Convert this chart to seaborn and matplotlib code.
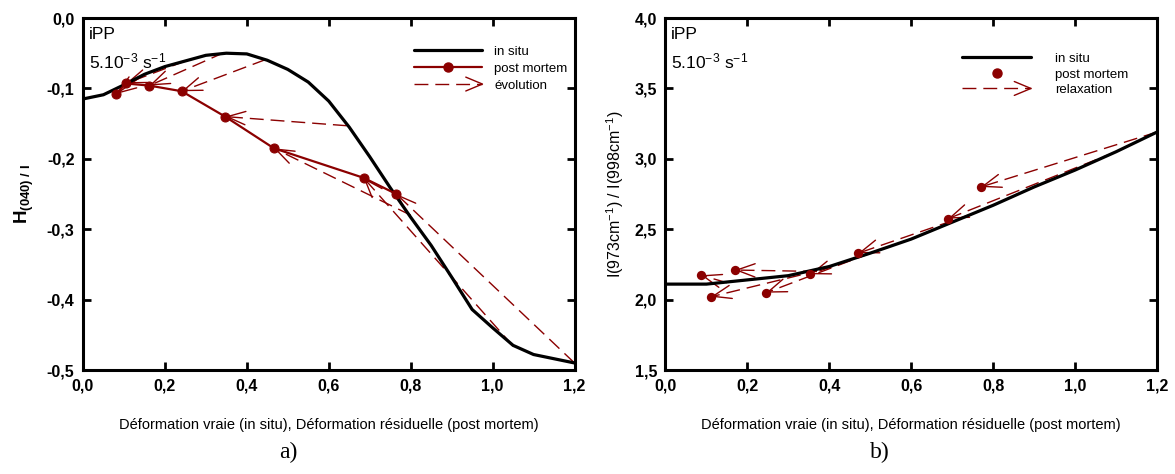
import numpy as np
import pandas as pd
import matplotlib
matplotlib.use("Agg")
import matplotlib.pyplot as plt
import seaborn as sns
from matplotlib.lines import Line2D
from matplotlib.legend_handler import HandlerBase

# ---- panel a : H(040)/I ----
a_insitu_x = [0, 0.05, 0.1, 0.15, 0.2, 0.25, 0.3, 0.35, 0.4, 0.45, 0.5, 0.55, 0.6, 0.65,
              0.7, 0.75, 0.8, 0.85, 0.9, 0.95, 1.0, 1.05, 1.1, 1.2]
a_insitu_y = [-0.115, -0.109, -0.095, -0.080, -0.069, -0.061, -0.053, -0.050, -0.051, -0.060,
              -0.073, -0.091, -0.118, -0.155, -0.197, -0.241, -0.283, -0.323, -0.368, -0.414,
              -0.440, -0.465, -0.478, -0.490]
a_pm_x = [0.081, 0.105, 0.162, 0.241, 0.347, 0.466, 0.685, 0.765]
a_pm_y = [-0.108, -0.093, -0.096, -0.104, -0.140, -0.185, -0.227, -0.250]
a_start_x = [0.15, 0.25, 0.345, 0.446, 0.644, 0.80, 1.05, 1.2]
a_start_y = [-0.080, -0.061, -0.049, -0.059, -0.153, -0.280, -0.466, -0.490]

# ---- panel b : I(973)/I(998) ----
b_insitu_x = [0, 0.1, 0.2, 0.3, 0.4, 0.5, 0.6, 0.7, 0.8, 0.9, 1.0, 1.1, 1.2]
b_insitu_y = [2.11, 2.11, 2.14, 2.17, 2.235, 2.33, 2.43, 2.55, 2.67, 2.80, 2.92, 3.05, 3.19]
b_pm_x = [0.087, 0.111, 0.169, 0.246, 0.353, 0.471, 0.69, 0.77]
b_pm_y = [2.173, 2.02, 2.21, 2.049, 2.18, 2.33, 2.575, 2.80]
b_start_x = [0.15, 0.33, 0.37, 0.5, 0.6, 0.75, 1.1, 1.2]
b_start_y = [2.12, 2.175, 2.20, 2.33, 2.43, 2.61, 3.05, 3.19]

x_ticks = [0.0, 0.2, 0.4, 0.6, 0.8, 1.0, 1.2]
x_ticklabels = ["0,0", "0,2", "0,4", "0,6", "0,8", "1,0", "1,2"]
a_yticks = [0.0, -0.1, -0.2, -0.3, -0.4, -0.5]
a_yticklabels = ["0,0", "-0,1", "-0,2", "-0,3", "-0,4", "-0,5"]
b_yticks = [1.5, 2.0, 2.5, 3.0, 3.5, 4.0]
b_yticklabels = ["1,5", "2,0", "2,5", "3,0", "3,5", "4,0"]

RED = "#8b0000"
SANS = ["Liberation Sans", "DejaVu Sans"]

sns.set_theme(style="ticks")
plt.rcParams["font.family"] = SANS
plt.rcParams["text.color"] = "black"
plt.rcParams["axes.labelcolor"] = "black"
plt.rcParams["mathtext.fontset"] = "custom"
plt.rcParams["mathtext.rm"] = "Liberation Sans"
plt.rcParams["mathtext.bf"] = "Liberation Sans:bold"
plt.rcParams["mathtext.it"] = "Liberation Sans:italic"


class ArrowHandler(HandlerBase):
    def create_artists(self, legend, orig_handle, xdescent, ydescent, width, height, fontsize, trans):
        y = height / 2 - ydescent
        x0, x1 = -xdescent, width - xdescent
        shaft = Line2D([x0, x1], [y, y], color=RED, lw=1, ls=(0, (10, 5)))
        head = Line2D([x1 - 12, x1, x1 - 12], [y + 5, y, y - 5], color=RED, lw=1)
        shaft.set_transform(trans)
        head.set_transform(trans)
        return [shaft, head]


def arrows(ax, sx, sy, ex, ey):
    for x0, y0, x1, y1 in zip(sx, sy, ex, ey):
        ax.plot([x0, x1], [y0, y1], color=RED, lw=1, ls=(0, (10, 5)), zorder=2)
        tx = x1 + 0.01 * (x0 - x1)
        ty = y1 + 0.01 * (y0 - y1)
        ax.annotate("", xy=(x1, y1), xytext=(tx, ty),
                    arrowprops=dict(arrowstyle="->,head_length=1.1,head_width=0.4",
                                    color=RED, lw=1, shrinkA=0, shrinkB=2, mutation_scale=12),
                    zorder=2)


def style_axes(ax, yticks, yticklabels, ylim):
    ax.set_xlim(0, 1.2)
    ax.set_ylim(*ylim)
    ax.set_xticks(x_ticks)
    ax.set_xticklabels(x_ticklabels)
    ax.set_yticks(yticks)
    ax.set_yticklabels(yticklabels)
    for lab in ax.get_xticklabels() + ax.get_yticklabels():
        lab.set_fontweight("bold")
        lab.set_fontsize(11.5)
    ax.tick_params(direction="in", length=6, width=2, top=True, right=True,
                   labeltop=False, labelright=False, pad=6, colors="black")
    for s in ax.spines.values():
        s.set_visible(True)
        s.set_linewidth(2.2)
        s.set_color("black")
    ax.set_xlabel("Déformation vraie (in situ), Déformation résiduelle (post mortem)",
                  fontsize=10.5, labelpad=18)
    ax.text(0.012, 0.975, "iPP", transform=ax.transAxes, fontsize=12.5, va="top")
    ax.text(0.012, 0.905, r"5.10$^{-3}$ s$^{-1}$", transform=ax.transAxes, fontsize=12.5, va="top")


fig, (ax1, ax2) = plt.subplots(1, 2, figsize=(11.75, 4.74), dpi=100)
fig.subplots_adjust(left=0.0706, right=0.9847, top=0.962, bottom=0.2194, wspace=0.185)

# panel a
df_a = pd.DataFrame({"x": a_insitu_x, "y": a_insitu_y})
df_apm = pd.DataFrame({"x": a_pm_x, "y": a_pm_y})
sns.lineplot(data=df_a, x="x", y="y", ax=ax1, color="black", lw=2.3, zorder=3)
sns.lineplot(data=df_apm, x="x", y="y", ax=ax1, color=RED, lw=1.6, marker="o",
             markersize=6.5, markeredgecolor=RED, zorder=4)
arrows(ax1, a_start_x, a_start_y, a_pm_x, a_pm_y)
style_axes(ax1, a_yticks, a_yticklabels, (-0.5, 0.0))
ax1.set_ylabel(r"$\mathbf{H_{(040)\ /\ I}}$", fontsize=13.5, labelpad=8)

h1 = [Line2D([], [], color="black", lw=2.3),
      Line2D([], [], color=RED, lw=1.6, marker="o", markersize=6.5),
      "arrow"]
ax1.legend(h1, ["in situ", "post mortem", "évolution"], loc="upper right",
           bbox_to_anchor=(1.01, 0.955), frameon=False, fontsize=9.5, handlelength=5.2,
           handletextpad=0.9, labelspacing=0.35, handler_map={str: ArrowHandler()})

# panel b
df_b = pd.DataFrame({"x": b_insitu_x, "y": b_insitu_y})
df_bpm = pd.DataFrame({"x": b_pm_x, "y": b_pm_y})
sns.lineplot(data=df_b, x="x", y="y", ax=ax2, color="black", lw=2.3, zorder=3)
sns.scatterplot(data=df_bpm, x="x", y="y", ax=ax2, color=RED, s=45, edgecolor=RED,
                linewidth=0, zorder=4)
arrows(ax2, b_start_x, b_start_y, b_pm_x, b_pm_y)
style_axes(ax2, b_yticks, b_yticklabels, (1.5, 4.0))
ax2.set_ylabel("I(973cm$^{-1}$) / I(998cm$^{-1}$)", fontsize=11.5, labelpad=6)

h2 = [Line2D([], [], color="black", lw=2.3),
      Line2D([], [], color=RED, lw=0, marker="o", markersize=6.5),
      "arrow"]
ax2.legend(h2, ["in situ", "post mortem", "relaxation"], loc="upper right",
           bbox_to_anchor=(0.965, 0.935), frameon=False, fontsize=9.5, handlelength=5.2,
           handletextpad=1.8, labelspacing=0.25, handler_map={str: ArrowHandler()})

fig.text(0.245, 0.045, "a)", family=["Liberation Serif", "DejaVu Serif"], fontsize=17,
         ha="center", va="center")
fig.text(0.749, 0.045, "b)", family=["Liberation Serif", "DejaVu Serif"], fontsize=17,
         ha="center", va="center")

fig.savefig("out.png", dpi=100)
